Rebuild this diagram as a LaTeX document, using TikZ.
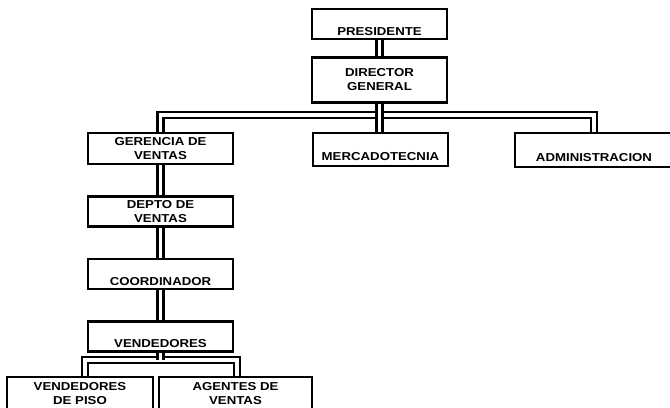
\documentclass[tikz,border=0pt]{standalone}
\usepackage{fontspec}
\newfontfamily\orgfont[FakeStretch=1.15]{Liberation Sans}
\usetikzlibrary{positioning}

\begin{document}
\begin{tikzpicture}[x=1bp, y=-1bp, node distance=30bp,
    box/.style={rectangle, draw, line width=2.5bp, minimum width=145bp,
                minimum height=30bp, align=center, inner sep=0pt,
                font=\orgfont\bfseries\fontsize{11.5bp}{14bp}\selectfont},
    low/.style={text height=22bp, text depth=0pt},
    link/.style={draw, line width=2.5bp, double, double distance=3.5bp}]

\useasboundingbox (0,0) rectangle (670,407);

\node[box, low, minimum width=135bp] (pres) at (379.5,24) {PRESIDENTE};
\node[box, minimum width=135bp, minimum height=45bp, below=16bp of pres] (dir) {DIRECTOR\\GENERAL};

\node[box, minimum height=31bp] (ger) at (160.5,148.5) {GERENCIA DE\\VENTAS};
\node[box, low, minimum width=135bp, minimum height=33bp] (merc) at (380.5,149.5) {MERCADOTECNIA};
\node[box, low, minimum width=158bp, minimum height=34bp] (adm) at (594,150) {ADMINISTRACION};

\node[box, below=of ger] (depto) {DEPTO DE\\VENTAS};
\node[box, low, below=of depto] (coord) {COORDINADOR};
\node[box, low, below=of coord] (vend) {VENDEDORES};

\node[box, minimum width=146bp, minimum height=33bp] (piso) at (80,393.5) {VENDEDORES\\DE PISO};
\node[box, minimum width=153bp, minimum height=33bp] (agent) at (235.5,393.5) {AGENTES DE\\VENTAS};

\coordinate (bus) at (0,115);
\coordinate (subL) at (85,360);
\coordinate (subR) at (237,360);

\draw[link] (pres) -- (dir);
\draw[link] (ger.north) -- (ger.north |- bus) -- (adm.north |- bus) -- (adm.north);
\draw[link] (dir.south) -- (dir.south |- merc.north);

\draw[link] (ger) -- (depto);
\draw[link] (depto) -- (coord);
\draw[link] (coord) -- (vend);

\draw[link] (subL |- piso.north) -- (subL) -- (subR) -- (subR |- agent.north);
\draw[link] (vend.south) -- (vend.south |- subL);

\end{tikzpicture}
\end{document}
